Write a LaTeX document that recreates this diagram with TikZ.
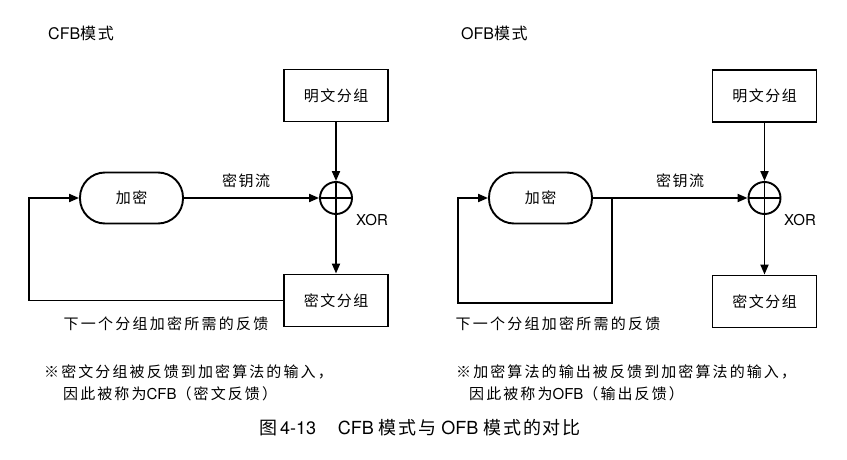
\documentclass[tikz,border=0pt]{standalone}
\usepackage{fontspec}
\setmainfont{TeX Gyre Heros}
\newfontfamily\cjk[LetterSpace=10]{Noto Sans CJK SC}
\newfontfamily\cjkn[LetterSpace=14]{Noto Sans CJK SC}
\newfontfamily\cjkw[LetterSpace=15]{Noto Sans CJK SC}
\usetikzlibrary{arrows.meta}
\begin{document}
\begin{tikzpicture}[x=1pt,y=-1pt,
  base/.style={font={\cjk\fontsize{15}{18}\selectfont}},
  box/.style={base,draw,line width=1.9pt,minimum width=104pt,minimum height=52pt,inner sep=0pt},
  encbox/.style={base,draw,line width=1.9pt,rounded corners=25pt,minimum width=103pt,minimum height=51pt,inner sep=0pt},
  xorc/.style={draw,circle,line width=1.9pt,minimum size=32pt,inner sep=0pt},
  conn/.style={line width=1.9pt},
  arr/.style={conn,-{Triangle[length=10pt,width=8pt]}},
  lbl/.style={base,inner sep=0pt},
  fblbl/.style={inner sep=0pt,font={\cjkw\fontsize{15}{18}\selectfont}},
  title/.style={inner sep=0pt,anchor=west,font={\fontsize{16}{19}\selectfont}},
  note/.style={inner sep=0pt,anchor=west,font={\cjkn\fontsize{15}{18}\selectfont}},
  latin/.style={font={\fontsize{15}{18}\selectfont}}
]
\useasboundingbox (0,0) rectangle (847,460);
% ---------- CFB ----------
\node[title] (t1) at (48,33) {CFB{\cjk 模式}};
\node[box] (p1) at (336,95.5) {明文分组};
\node[xorc] (x1) at (336,198) {};
\draw[conn] (x1.north) -- (x1.south) (x1.west) -- (x1.east);
\node[encbox] (e1) at (131.5,198) {加密};
\node[box] (c1) at (336,300.5) {密文分组};
\coordinate (f1) at (29,198);
\draw[arr] (p1.south) -- (x1.north);
\draw[arr] (e1.east) -- (x1.west);
\draw[arr] (x1.south) -- (c1.north);
\draw[arr] (c1.west) -| (f1) -- (e1.west);
\node[lbl] (k1) at (246,181) {密钥流};
\node[inner sep=0pt,latin] (xl1) at (372,220) {XOR};
\node[fblbl] (fb1) at (166,324) {下一个分组加密所需的反馈};
% ---------- OFB ----------
\node[title] (t2) at (461,33) {OFB{\cjk 模式}};
\node[box] (p2) at (764.5,96) {明文分组};
\node[xorc] (x2) at (764.5,198) {};
\draw[conn] (x2.north) -- (x2.south) (x2.west) -- (x2.east);
\node[encbox] (e2) at (540.5,198) {加密};
\node[box] (c2) at (764.5,301.5) {密文分组};
\coordinate (j2) at (612,198);
\coordinate (f2) at (458,303);
\draw[arr] (p2.south) -- (x2.north);
\draw[arr] (e2.east) -- (x2.west);
\draw[arr] (x2.south) -- (c2.north);
\draw[arr] (j2) |- (f2) |- (e2.west);
\node[lbl] (k2) at (680,181) {密钥流};
\node[inner sep=0pt,latin] (xl2) at (800,220) {XOR};
\node[fblbl] (fb2) at (558,324) {下一个分组加密所需的反馈};
% ---------- notes ----------
\node[note] (n1a) at (44,372) {※密文分组被反馈到加密算法的输入，};
\node[note] (n1b) at (63,394) {因此被称为{\fontspec{TeX Gyre Heros}CFB}（密文反馈）};
\node[note] (n2a) at (456,372) {※加密算法的输出被反馈到加密算法的输入，};
\node[note] (n2b) at (469,394) {因此被称为{\fontspec{TeX Gyre Heros}OFB}（输出反馈）};
% ---------- caption ----------
\node[inner sep=0pt,anchor=west,font={\fontsize{18}{21}\selectfont}] (cap) at (259,428)
  {{\cjk 图}\,4-13\hspace{1.2em}CFB {\cjk 模式与} OFB {\cjk 模式的对比}};
\end{tikzpicture}
\end{document}
